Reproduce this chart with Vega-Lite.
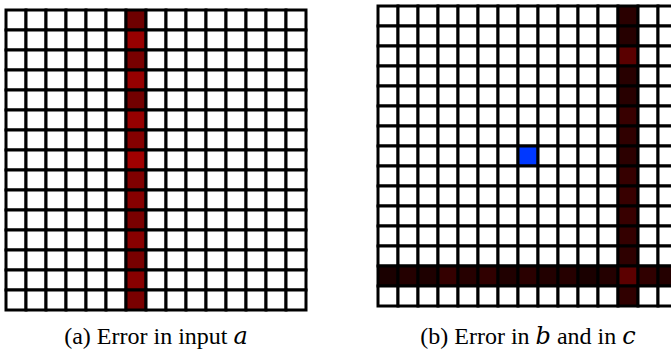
{
"$schema": "https://vega.github.io/schema/vega-lite/v6.json",
"padding": {"left": 4, "top": 4, "right": 0, "bottom": 0},
"spacing": 68,
"config": {"view": {"stroke": null}, "font": "Liberation Serif"},
"datasets": {
"a": [
{"x":0,"y":0,"c":"#fff"},{"x":1,"y":0,"c":"#fff"},{"x":2,"y":0,"c":"#fff"},{"x":3,"y":0,"c":"#fff"},{"x":4,"y":0,"c":"#fff"},{"x":5,"y":0,"c":"#fff"},{"x":6,"y":0,"c":"#6e0000"},{"x":7,"y":0,"c":"#fff"},{"x":8,"y":0,"c":"#fff"},{"x":9,"y":0,"c":"#fff"},{"x":10,"y":0,"c":"#fff"},{"x":11,"y":0,"c":"#fff"},{"x":12,"y":0,"c":"#fff"},{"x":13,"y":0,"c":"#fff"},{"x":14,"y":0,"c":"#fff"},
{"x":0,"y":1,"c":"#fff"},{"x":1,"y":1,"c":"#fff"},{"x":2,"y":1,"c":"#fff"},{"x":3,"y":1,"c":"#fff"},{"x":4,"y":1,"c":"#fff"},{"x":5,"y":1,"c":"#fff"},{"x":6,"y":1,"c":"#980000"},{"x":7,"y":1,"c":"#fff"},{"x":8,"y":1,"c":"#fff"},{"x":9,"y":1,"c":"#fff"},{"x":10,"y":1,"c":"#fff"},{"x":11,"y":1,"c":"#fff"},{"x":12,"y":1,"c":"#fff"},{"x":13,"y":1,"c":"#fff"},{"x":14,"y":1,"c":"#fff"},
{"x":0,"y":2,"c":"#fff"},{"x":1,"y":2,"c":"#fff"},{"x":2,"y":2,"c":"#fff"},{"x":3,"y":2,"c":"#fff"},{"x":4,"y":2,"c":"#fff"},{"x":5,"y":2,"c":"#fff"},{"x":6,"y":2,"c":"#780000"},{"x":7,"y":2,"c":"#fff"},{"x":8,"y":2,"c":"#fff"},{"x":9,"y":2,"c":"#fff"},{"x":10,"y":2,"c":"#fff"},{"x":11,"y":2,"c":"#fff"},{"x":12,"y":2,"c":"#fff"},{"x":13,"y":2,"c":"#fff"},{"x":14,"y":2,"c":"#fff"},
{"x":0,"y":3,"c":"#fff"},{"x":1,"y":3,"c":"#fff"},{"x":2,"y":3,"c":"#fff"},{"x":3,"y":3,"c":"#fff"},{"x":4,"y":3,"c":"#fff"},{"x":5,"y":3,"c":"#fff"},{"x":6,"y":3,"c":"#960000"},{"x":7,"y":3,"c":"#fff"},{"x":8,"y":3,"c":"#fff"},{"x":9,"y":3,"c":"#fff"},{"x":10,"y":3,"c":"#fff"},{"x":11,"y":3,"c":"#fff"},{"x":12,"y":3,"c":"#fff"},{"x":13,"y":3,"c":"#fff"},{"x":14,"y":3,"c":"#fff"},
{"x":0,"y":4,"c":"#fff"},{"x":1,"y":4,"c":"#fff"},{"x":2,"y":4,"c":"#fff"},{"x":3,"y":4,"c":"#fff"},{"x":4,"y":4,"c":"#fff"},{"x":5,"y":4,"c":"#fff"},{"x":6,"y":4,"c":"#720000"},{"x":7,"y":4,"c":"#fff"},{"x":8,"y":4,"c":"#fff"},{"x":9,"y":4,"c":"#fff"},{"x":10,"y":4,"c":"#fff"},{"x":11,"y":4,"c":"#fff"},{"x":12,"y":4,"c":"#fff"},{"x":13,"y":4,"c":"#fff"},{"x":14,"y":4,"c":"#fff"},
{"x":0,"y":5,"c":"#fff"},{"x":1,"y":5,"c":"#fff"},{"x":2,"y":5,"c":"#fff"},{"x":3,"y":5,"c":"#fff"},{"x":4,"y":5,"c":"#fff"},{"x":5,"y":5,"c":"#fff"},{"x":6,"y":5,"c":"#960000"},{"x":7,"y":5,"c":"#fff"},{"x":8,"y":5,"c":"#fff"},{"x":9,"y":5,"c":"#fff"},{"x":10,"y":5,"c":"#fff"},{"x":11,"y":5,"c":"#fff"},{"x":12,"y":5,"c":"#fff"},{"x":13,"y":5,"c":"#fff"},{"x":14,"y":5,"c":"#fff"},
{"x":0,"y":6,"c":"#fff"},{"x":1,"y":6,"c":"#fff"},{"x":2,"y":6,"c":"#fff"},{"x":3,"y":6,"c":"#fff"},{"x":4,"y":6,"c":"#fff"},{"x":5,"y":6,"c":"#fff"},{"x":6,"y":6,"c":"#840000"},{"x":7,"y":6,"c":"#fff"},{"x":8,"y":6,"c":"#fff"},{"x":9,"y":6,"c":"#fff"},{"x":10,"y":6,"c":"#fff"},{"x":11,"y":6,"c":"#fff"},{"x":12,"y":6,"c":"#fff"},{"x":13,"y":6,"c":"#fff"},{"x":14,"y":6,"c":"#fff"},
{"x":0,"y":7,"c":"#fff"},{"x":1,"y":7,"c":"#fff"},{"x":2,"y":7,"c":"#fff"},{"x":3,"y":7,"c":"#fff"},{"x":4,"y":7,"c":"#fff"},{"x":5,"y":7,"c":"#fff"},{"x":6,"y":7,"c":"#a00000"},{"x":7,"y":7,"c":"#fff"},{"x":8,"y":7,"c":"#fff"},{"x":9,"y":7,"c":"#fff"},{"x":10,"y":7,"c":"#fff"},{"x":11,"y":7,"c":"#fff"},{"x":12,"y":7,"c":"#fff"},{"x":13,"y":7,"c":"#fff"},{"x":14,"y":7,"c":"#fff"},
{"x":0,"y":8,"c":"#fff"},{"x":1,"y":8,"c":"#fff"},{"x":2,"y":8,"c":"#fff"},{"x":3,"y":8,"c":"#fff"},{"x":4,"y":8,"c":"#fff"},{"x":5,"y":8,"c":"#fff"},{"x":6,"y":8,"c":"#800000"},{"x":7,"y":8,"c":"#fff"},{"x":8,"y":8,"c":"#fff"},{"x":9,"y":8,"c":"#fff"},{"x":10,"y":8,"c":"#fff"},{"x":11,"y":8,"c":"#fff"},{"x":12,"y":8,"c":"#fff"},{"x":13,"y":8,"c":"#fff"},{"x":14,"y":8,"c":"#fff"},
{"x":0,"y":9,"c":"#fff"},{"x":1,"y":9,"c":"#fff"},{"x":2,"y":9,"c":"#fff"},{"x":3,"y":9,"c":"#fff"},{"x":4,"y":9,"c":"#fff"},{"x":5,"y":9,"c":"#fff"},{"x":6,"y":9,"c":"#860000"},{"x":7,"y":9,"c":"#fff"},{"x":8,"y":9,"c":"#fff"},{"x":9,"y":9,"c":"#fff"},{"x":10,"y":9,"c":"#fff"},{"x":11,"y":9,"c":"#fff"},{"x":12,"y":9,"c":"#fff"},{"x":13,"y":9,"c":"#fff"},{"x":14,"y":9,"c":"#fff"},
{"x":0,"y":10,"c":"#fff"},{"x":1,"y":10,"c":"#fff"},{"x":2,"y":10,"c":"#fff"},{"x":3,"y":10,"c":"#fff"},{"x":4,"y":10,"c":"#fff"},{"x":5,"y":10,"c":"#fff"},{"x":6,"y":10,"c":"#7a0000"},{"x":7,"y":10,"c":"#fff"},{"x":8,"y":10,"c":"#fff"},{"x":9,"y":10,"c":"#fff"},{"x":10,"y":10,"c":"#fff"},{"x":11,"y":10,"c":"#fff"},{"x":12,"y":10,"c":"#fff"},{"x":13,"y":10,"c":"#fff"},{"x":14,"y":10,"c":"#fff"},
{"x":0,"y":11,"c":"#fff"},{"x":1,"y":11,"c":"#fff"},{"x":2,"y":11,"c":"#fff"},{"x":3,"y":11,"c":"#fff"},{"x":4,"y":11,"c":"#fff"},{"x":5,"y":11,"c":"#fff"},{"x":6,"y":11,"c":"#880000"},{"x":7,"y":11,"c":"#fff"},{"x":8,"y":11,"c":"#fff"},{"x":9,"y":11,"c":"#fff"},{"x":10,"y":11,"c":"#fff"},{"x":11,"y":11,"c":"#fff"},{"x":12,"y":11,"c":"#fff"},{"x":13,"y":11,"c":"#fff"},{"x":14,"y":11,"c":"#fff"},
{"x":0,"y":12,"c":"#fff"},{"x":1,"y":12,"c":"#fff"},{"x":2,"y":12,"c":"#fff"},{"x":3,"y":12,"c":"#fff"},{"x":4,"y":12,"c":"#fff"},{"x":5,"y":12,"c":"#fff"},{"x":6,"y":12,"c":"#780000"},{"x":7,"y":12,"c":"#fff"},{"x":8,"y":12,"c":"#fff"},{"x":9,"y":12,"c":"#fff"},{"x":10,"y":12,"c":"#fff"},{"x":11,"y":12,"c":"#fff"},{"x":12,"y":12,"c":"#fff"},{"x":13,"y":12,"c":"#fff"},{"x":14,"y":12,"c":"#fff"},
{"x":0,"y":13,"c":"#fff"},{"x":1,"y":13,"c":"#fff"},{"x":2,"y":13,"c":"#fff"},{"x":3,"y":13,"c":"#fff"},{"x":4,"y":13,"c":"#fff"},{"x":5,"y":13,"c":"#fff"},{"x":6,"y":13,"c":"#880000"},{"x":7,"y":13,"c":"#fff"},{"x":8,"y":13,"c":"#fff"},{"x":9,"y":13,"c":"#fff"},{"x":10,"y":13,"c":"#fff"},{"x":11,"y":13,"c":"#fff"},{"x":12,"y":13,"c":"#fff"},{"x":13,"y":13,"c":"#fff"},{"x":14,"y":13,"c":"#fff"},
{"x":0,"y":14,"c":"#fff"},{"x":1,"y":14,"c":"#fff"},{"x":2,"y":14,"c":"#fff"},{"x":3,"y":14,"c":"#fff"},{"x":4,"y":14,"c":"#fff"},{"x":5,"y":14,"c":"#fff"},{"x":6,"y":14,"c":"#7a0000"},{"x":7,"y":14,"c":"#fff"},{"x":8,"y":14,"c":"#fff"},{"x":9,"y":14,"c":"#fff"},{"x":10,"y":14,"c":"#fff"},{"x":11,"y":14,"c":"#fff"},{"x":12,"y":14,"c":"#fff"},{"x":13,"y":14,"c":"#fff"},{"x":14,"y":14,"c":"#fff"}
],
"b": [
{"x":0,"y":0,"c":"#fff"},{"x":1,"y":0,"c":"#fff"},{"x":2,"y":0,"c":"#fff"},{"x":3,"y":0,"c":"#fff"},{"x":4,"y":0,"c":"#fff"},{"x":5,"y":0,"c":"#fff"},{"x":6,"y":0,"c":"#fff"},{"x":7,"y":0,"c":"#fff"},{"x":8,"y":0,"c":"#fff"},{"x":9,"y":0,"c":"#fff"},{"x":10,"y":0,"c":"#fff"},{"x":11,"y":0,"c":"#fff"},{"x":12,"y":0,"c":"#2a0000"},{"x":13,"y":0,"c":"#fff"},{"x":14,"y":0,"c":"#fff"},
{"x":0,"y":1,"c":"#fff"},{"x":1,"y":1,"c":"#fff"},{"x":2,"y":1,"c":"#fff"},{"x":3,"y":1,"c":"#fff"},{"x":4,"y":1,"c":"#fff"},{"x":5,"y":1,"c":"#fff"},{"x":6,"y":1,"c":"#fff"},{"x":7,"y":1,"c":"#fff"},{"x":8,"y":1,"c":"#fff"},{"x":9,"y":1,"c":"#fff"},{"x":10,"y":1,"c":"#fff"},{"x":11,"y":1,"c":"#fff"},{"x":12,"y":1,"c":"#260000"},{"x":13,"y":1,"c":"#fff"},{"x":14,"y":1,"c":"#fff"},
{"x":0,"y":2,"c":"#fff"},{"x":1,"y":2,"c":"#fff"},{"x":2,"y":2,"c":"#fff"},{"x":3,"y":2,"c":"#fff"},{"x":4,"y":2,"c":"#fff"},{"x":5,"y":2,"c":"#fff"},{"x":6,"y":2,"c":"#fff"},{"x":7,"y":2,"c":"#fff"},{"x":8,"y":2,"c":"#fff"},{"x":9,"y":2,"c":"#fff"},{"x":10,"y":2,"c":"#fff"},{"x":11,"y":2,"c":"#fff"},{"x":12,"y":2,"c":"#5a0000"},{"x":13,"y":2,"c":"#fff"},{"x":14,"y":2,"c":"#fff"},
{"x":0,"y":3,"c":"#fff"},{"x":1,"y":3,"c":"#fff"},{"x":2,"y":3,"c":"#fff"},{"x":3,"y":3,"c":"#fff"},{"x":4,"y":3,"c":"#fff"},{"x":5,"y":3,"c":"#fff"},{"x":6,"y":3,"c":"#fff"},{"x":7,"y":3,"c":"#fff"},{"x":8,"y":3,"c":"#fff"},{"x":9,"y":3,"c":"#fff"},{"x":10,"y":3,"c":"#fff"},{"x":11,"y":3,"c":"#fff"},{"x":12,"y":3,"c":"#280000"},{"x":13,"y":3,"c":"#fff"},{"x":14,"y":3,"c":"#fff"},
{"x":0,"y":4,"c":"#fff"},{"x":1,"y":4,"c":"#fff"},{"x":2,"y":4,"c":"#fff"},{"x":3,"y":4,"c":"#fff"},{"x":4,"y":4,"c":"#fff"},{"x":5,"y":4,"c":"#fff"},{"x":6,"y":4,"c":"#fff"},{"x":7,"y":4,"c":"#fff"},{"x":8,"y":4,"c":"#fff"},{"x":9,"y":4,"c":"#fff"},{"x":10,"y":4,"c":"#fff"},{"x":11,"y":4,"c":"#fff"},{"x":12,"y":4,"c":"#280000"},{"x":13,"y":4,"c":"#fff"},{"x":14,"y":4,"c":"#fff"},
{"x":0,"y":5,"c":"#fff"},{"x":1,"y":5,"c":"#fff"},{"x":2,"y":5,"c":"#fff"},{"x":3,"y":5,"c":"#fff"},{"x":4,"y":5,"c":"#fff"},{"x":5,"y":5,"c":"#fff"},{"x":6,"y":5,"c":"#fff"},{"x":7,"y":5,"c":"#fff"},{"x":8,"y":5,"c":"#fff"},{"x":9,"y":5,"c":"#fff"},{"x":10,"y":5,"c":"#fff"},{"x":11,"y":5,"c":"#fff"},{"x":12,"y":5,"c":"#380000"},{"x":13,"y":5,"c":"#fff"},{"x":14,"y":5,"c":"#fff"},
{"x":0,"y":6,"c":"#fff"},{"x":1,"y":6,"c":"#fff"},{"x":2,"y":6,"c":"#fff"},{"x":3,"y":6,"c":"#fff"},{"x":4,"y":6,"c":"#fff"},{"x":5,"y":6,"c":"#fff"},{"x":6,"y":6,"c":"#fff"},{"x":7,"y":6,"c":"#fff"},{"x":8,"y":6,"c":"#fff"},{"x":9,"y":6,"c":"#fff"},{"x":10,"y":6,"c":"#fff"},{"x":11,"y":6,"c":"#fff"},{"x":12,"y":6,"c":"#300000"},{"x":13,"y":6,"c":"#fff"},{"x":14,"y":6,"c":"#fff"},
{"x":0,"y":7,"c":"#fff"},{"x":1,"y":7,"c":"#fff"},{"x":2,"y":7,"c":"#fff"},{"x":3,"y":7,"c":"#fff"},{"x":4,"y":7,"c":"#fff"},{"x":5,"y":7,"c":"#fff"},{"x":6,"y":7,"c":"#fff"},{"x":7,"y":7,"c":"#0038ff"},{"x":8,"y":7,"c":"#fff"},{"x":9,"y":7,"c":"#fff"},{"x":10,"y":7,"c":"#fff"},{"x":11,"y":7,"c":"#fff"},{"x":12,"y":7,"c":"#2c0000"},{"x":13,"y":7,"c":"#fff"},{"x":14,"y":7,"c":"#fff"},
{"x":0,"y":8,"c":"#fff"},{"x":1,"y":8,"c":"#fff"},{"x":2,"y":8,"c":"#fff"},{"x":3,"y":8,"c":"#fff"},{"x":4,"y":8,"c":"#fff"},{"x":5,"y":8,"c":"#fff"},{"x":6,"y":8,"c":"#fff"},{"x":7,"y":8,"c":"#fff"},{"x":8,"y":8,"c":"#fff"},{"x":9,"y":8,"c":"#fff"},{"x":10,"y":8,"c":"#fff"},{"x":11,"y":8,"c":"#fff"},{"x":12,"y":8,"c":"#360000"},{"x":13,"y":8,"c":"#fff"},{"x":14,"y":8,"c":"#fff"},
{"x":0,"y":9,"c":"#fff"},{"x":1,"y":9,"c":"#fff"},{"x":2,"y":9,"c":"#fff"},{"x":3,"y":9,"c":"#fff"},{"x":4,"y":9,"c":"#fff"},{"x":5,"y":9,"c":"#fff"},{"x":6,"y":9,"c":"#fff"},{"x":7,"y":9,"c":"#fff"},{"x":8,"y":9,"c":"#fff"},{"x":9,"y":9,"c":"#fff"},{"x":10,"y":9,"c":"#fff"},{"x":11,"y":9,"c":"#fff"},{"x":12,"y":9,"c":"#380000"},{"x":13,"y":9,"c":"#fff"},{"x":14,"y":9,"c":"#fff"},
{"x":0,"y":10,"c":"#fff"},{"x":1,"y":10,"c":"#fff"},{"x":2,"y":10,"c":"#fff"},{"x":3,"y":10,"c":"#fff"},{"x":4,"y":10,"c":"#fff"},{"x":5,"y":10,"c":"#fff"},{"x":6,"y":10,"c":"#fff"},{"x":7,"y":10,"c":"#fff"},{"x":8,"y":10,"c":"#fff"},{"x":9,"y":10,"c":"#fff"},{"x":10,"y":10,"c":"#fff"},{"x":11,"y":10,"c":"#fff"},{"x":12,"y":10,"c":"#380000"},{"x":13,"y":10,"c":"#fff"},{"x":14,"y":10,"c":"#fff"},
{"x":0,"y":11,"c":"#fff"},{"x":1,"y":11,"c":"#fff"},{"x":2,"y":11,"c":"#fff"},{"x":3,"y":11,"c":"#fff"},{"x":4,"y":11,"c":"#fff"},{"x":5,"y":11,"c":"#fff"},{"x":6,"y":11,"c":"#fff"},{"x":7,"y":11,"c":"#fff"},{"x":8,"y":11,"c":"#fff"},{"x":9,"y":11,"c":"#fff"},{"x":10,"y":11,"c":"#fff"},{"x":11,"y":11,"c":"#fff"},{"x":12,"y":11,"c":"#340000"},{"x":13,"y":11,"c":"#fff"},{"x":14,"y":11,"c":"#fff"},
{"x":0,"y":12,"c":"#fff"},{"x":1,"y":12,"c":"#fff"},{"x":2,"y":12,"c":"#fff"},{"x":3,"y":12,"c":"#fff"},{"x":4,"y":12,"c":"#fff"},{"x":5,"y":12,"c":"#fff"},{"x":6,"y":12,"c":"#fff"},{"x":7,"y":12,"c":"#fff"},{"x":8,"y":12,"c":"#fff"},{"x":9,"y":12,"c":"#fff"},{"x":10,"y":12,"c":"#fff"},{"x":11,"y":12,"c":"#fff"},{"x":12,"y":12,"c":"#2e0000"},{"x":13,"y":12,"c":"#fff"},{"x":14,"y":12,"c":"#fff"},
{"x":0,"y":13,"c":"#1a0000"},{"x":1,"y":13,"c":"#240000"},{"x":2,"y":13,"c":"#1e0000"},{"x":3,"y":13,"c":"#340000"},{"x":4,"y":13,"c":"#260000"},{"x":5,"y":13,"c":"#300000"},{"x":6,"y":13,"c":"#200000"},{"x":7,"y":13,"c":"#2a0000"},{"x":8,"y":13,"c":"#220000"},{"x":9,"y":13,"c":"#260000"},{"x":10,"y":13,"c":"#1a0000"},{"x":11,"y":13,"c":"#240000"},{"x":12,"y":13,"c":"#5c0000"},{"x":13,"y":13,"c":"#300000"},{"x":14,"y":13,"c":"#240000"},
{"x":0,"y":14,"c":"#fff"},{"x":1,"y":14,"c":"#fff"},{"x":2,"y":14,"c":"#fff"},{"x":3,"y":14,"c":"#fff"},{"x":4,"y":14,"c":"#fff"},{"x":5,"y":14,"c":"#fff"},{"x":6,"y":14,"c":"#fff"},{"x":7,"y":14,"c":"#fff"},{"x":8,"y":14,"c":"#fff"},{"x":9,"y":14,"c":"#fff"},{"x":10,"y":14,"c":"#fff"},{"x":11,"y":14,"c":"#fff"},{"x":12,"y":14,"c":"#300000"},{"x":13,"y":14,"c":"#fff"},{"x":14,"y":14,"c":"#fff"}
]
},
"hconcat": [
{
"data": {"name": "a"},
"width": 300, "height": 300,
"title": {"text": "(a) Error in input 𝑎", "orient": "bottom", "anchor": "middle", "fontSize": 24, "fontWeight": "normal", "font": "Liberation Serif, DejaVu Serif", "color": "black", "offset": 13},
"mark": {"type": "rect", "stroke": "black", "strokeWidth": 3},
"encoding": {
"x": {"field": "x", "type": "ordinal", "axis": null, "scale": {"paddingInner": 0, "paddingOuter": 0}},
"y": {"field": "y", "type": "ordinal", "axis": null, "scale": {"paddingInner": 0, "paddingOuter": 0, "range": [4, 304]}},
"fill": {"field": "c", "type": "nominal", "scale": null}
}
},
{
"data": {"name": "b"},
"width": 300, "height": 300,
"title": {"text": "(b) Error in 𝑏 and in 𝑐", "orient": "bottom", "anchor": "middle", "fontSize": 24, "fontWeight": "normal", "font": "Liberation Serif, DejaVu Serif", "color": "black", "offset": 17},
"mark": {"type": "rect", "stroke": "black", "strokeWidth": 3},
"encoding": {
"x": {"field": "x", "type": "ordinal", "axis": null, "scale": {"paddingInner": 0, "paddingOuter": 0}},
"y": {"field": "y", "type": "ordinal", "axis": null, "scale": {"paddingInner": 0, "paddingOuter": 0}},
"fill": {"field": "c", "type": "nominal", "scale": null}
}
}
]
}
